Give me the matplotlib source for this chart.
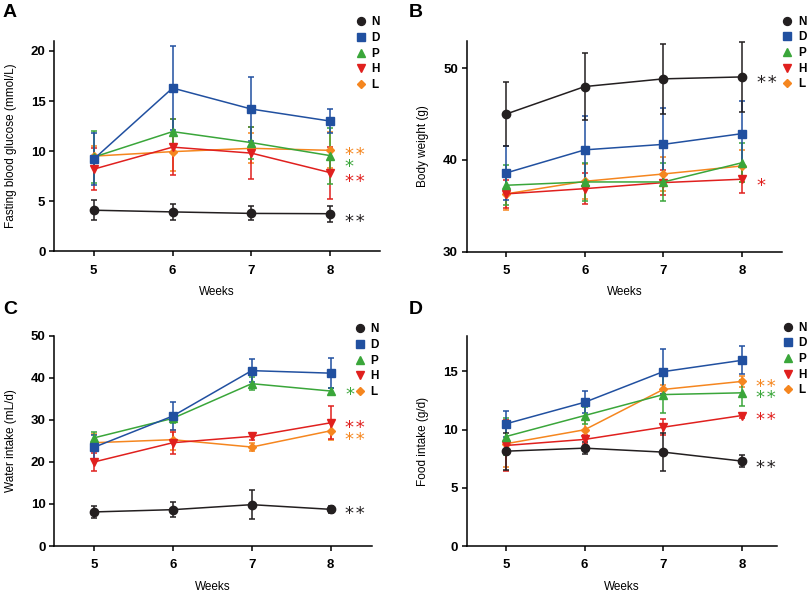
import matplotlib
matplotlib.use("Agg")
import matplotlib.pyplot as plt
from matplotlib.lines import Line2D

plt.rcParams['font.family'] = ['Liberation Sans', 'DejaVu Sans']

weeks = [5, 6, 7, 8]
groups = ['N', 'D', 'P', 'H', 'L']
colors = {'N': '#231f20', 'D': '#2150a0', 'P': '#3aa63a', 'H': '#e0201e', 'L': '#f5861f'}
markers = {'N': 'o', 'D': 's', 'P': '^', 'H': 'v', 'L': 'D'}
msizes = {'N': 6.0, 'D': 5.5, 'P': 5.8, 'H': 5.8, 'L': 4.4}

# Panel A: fasting blood glucose (mmol/L)
glu_mean = {'N': [4.1, 3.93, 3.78, 3.75], 'D': [9.2, 16.3, 14.2, 13.0],
            'P': [9.4, 11.95, 10.85, 9.55], 'H': [8.2, 10.4, 9.8, 7.85],
            'L': [9.5, 9.95, 10.28, 10.08]}
glu_sd = {'N': [1.0, 0.8, 0.7, 0.8], 'D': [2.6, 4.2, 3.2, 1.2],
          'P': [2.6, 1.3, 1.6, 2.8], 'H': [2.1, 2.8, 2.6, 2.6],
          'L': [1.0, 1.9, 1.5, 1.8]}
glu_sig = {'L': ('**', 10.2), 'P': ('*', 8.95), 'H': ('**', 7.45), 'N': ('**', 3.5)}

# Panel B: body weight (g)
bw_mean = {'N': [45.0, 48.0, 48.84, 49.05], 'D': [38.58, 41.1, 41.7, 42.87],
           'P': [37.24, 37.6, 37.6, 39.7], 'H': [36.3, 36.87, 37.53, 37.9],
           'L': [36.3, 37.67, 38.47, 39.35]}
bw_sd = {'N': [3.5, 3.7, 3.8, 3.8], 'D': [2.9, 3.7, 4.0, 3.6],
         'P': [2.2, 2.1, 2.1, 2.1], 'H': [1.5, 1.7, 1.4, 1.5],
         'L': [1.8, 1.9, 1.9, 1.7]}
bw_sig = {'N': ('**', 49.0), 'H': ('*', 37.8)}

# Panel C: water intake (mL/d)
wi_mean = {'N': [8.1, 8.64, 9.83, 8.72], 'D': [23.45, 30.9, 41.7, 41.1],
           'P': [25.7, 30.35, 38.6, 36.85], 'H': [19.97, 24.56, 26.07, 29.3],
           'L': [24.56, 25.28, 23.53, 27.4]}
wi_sd = {'N': [1.5, 1.8, 3.5, 0.8], 'D': [3.0, 3.4, 2.8, 3.6],
         'P': [1.3, 1.2, 1.5, 0.8], 'H': [2.2, 2.6, 0.8, 3.9],
         'L': [2.0, 2.4, 0.9, 2.1]}
wi_sig = {'P': ('*', 37.2), 'H': ('**', 29.4), 'L': ('**', 26.5), 'N': ('**', 8.95)}

# Panel D: food intake (g/d)
fi_mean = {'N': [8.14, 8.4, 8.06, 7.29], 'D': [10.49, 12.34, 14.97, 15.94],
           'P': [9.4, 11.2, 13.0, 13.15], 'H': [8.63, 9.15, 10.2, 11.2],
           'L': [8.78, 9.98, 13.44, 14.13]}
fi_sd = {'N': [1.6, 0.5, 1.6, 0.5], 'D': [1.1, 0.95, 1.9, 1.2],
         'P': [1.6, 0.7, 1.6, 1.1], 'H': [2.2, 0.4, 0.7, 0.2],
         'L': [2.0, 0.8, 0.4, 0.5]}
fi_sig = {'L': ('**', 14.15), 'P': ('**', 13.24), 'H': ('**', 11.32), 'N': ('**', 7.18)}

W, H = 809, 594
panels = [
    dict(letter='A', mean=glu_mean, sd=glu_sd, sig=glu_sig,
         ylabel='Fasting blood glucose (mmol/L)', ylim=(0, 21.0), yticks=[0, 5, 10, 15, 20],
         xlim=(4.5, 8.63), rect=[0.0671, 0.577, 0.4026, 0.354],
         legpx=(356.3, 16.4), letpx=(3, 4)),
    dict(letter='B', mean=bw_mean, sd=bw_sd, sig=bw_sig,
         ylabel='Body weight (g)', ylim=(30, 53.0), yticks=[30, 40, 50],
         xlim=(4.5, 8.51), rect=[0.5769, 0.5763, 0.3901, 0.3552],
         legpx=(782.6, 15.7), letpx=(409, 4)),
    dict(letter='C', mean=wi_mean, sd=wi_sd, sig=wi_sig,
         ylabel='Water intake (mL/d)', ylim=(0, 50), yticks=[0, 10, 20, 30, 40, 50],
         xlim=(4.5, 8.52), rect=[0.0671, 0.0808, 0.3924, 0.354],
         legpx=(355.3, 323.4), letpx=(3, 301)),
    dict(letter='D', mean=fi_mean, sd=fi_sd, sig=fi_sig,
         ylabel='Food intake (g/d)', ylim=(0, 18.0), yticks=[0, 5, 10, 15],
         xlim=(4.5, 8.45), rect=[0.5769, 0.0808, 0.3839, 0.353],
         legpx=(783.3, 321.7), letpx=(409, 301)),
]

fig = plt.figure(figsize=(W / 100, H / 100), dpi=100)

for p in panels:
    ax = fig.add_axes(p['rect'])
    for g in reversed(groups):
        ax.errorbar(weeks, p['mean'][g], yerr=p['sd'][g], color=colors[g],
                    marker=markers[g], markersize=msizes[g], linewidth=1.1,
                    elinewidth=1.1, capsize=2.3, capthick=1.1, zorder=3)
    for g, (txt, yv) in p['sig'].items():
        label = '\u200a'.join(txt)
        ax.annotate(label, xy=(weeks[-1], yv), xytext=(10.5, -7.8), textcoords='offset points',
                    ha='left', va='baseline', fontsize=13, color=colors[g],
                    family='DejaVu Sans', annotation_clip=False)
    ax.set_xlim(*p['xlim'])
    ax.set_ylim(*p['ylim'])
    ax.set_xticks(weeks)
    ax.set_yticks(p['yticks'])
    ax.spines['top'].set_visible(False)
    ax.spines['right'].set_visible(False)
    for s in ('left', 'bottom'):
        ax.spines[s].set_linewidth(1.1)
    ax.tick_params(axis='x', length=3.4, width=1.1, pad=6.3, labelsize=9.5)
    ax.tick_params(axis='y', length=3.4, width=1.1, pad=3, labelsize=9.5)
    for lab in ax.get_xticklabels() + ax.get_yticklabels():
        lab.set_fontweight('bold')
    ax.set_xlabel('Weeks', fontsize=8.5, labelpad=6.5)
    ax.set_ylabel(p['ylabel'], fontsize=8.5, labelpad=10)
    handles = [Line2D([], [], linestyle='none', marker=markers[g], color=colors[g],
                      markersize=msizes[g] * 0.95) for g in groups]
    lx, ly = p['legpx']
    ax.legend(handles, groups, loc='upper left', bbox_to_anchor=(lx / W, 1 - ly / H),
              bbox_transform=fig.transFigure,
              frameon=False, handlelength=0.8, handletextpad=0.5, labelspacing=0.31,
              borderpad=0, borderaxespad=0, prop={'size': 8.5, 'weight': 'bold'})
    tx, ty = p['letpx']
    fig.text(tx / W, 1 - ty / H, p['letter'], fontsize=14, fontweight='bold', va='top', ha='left')

fig.savefig('out.png', dpi=100)
